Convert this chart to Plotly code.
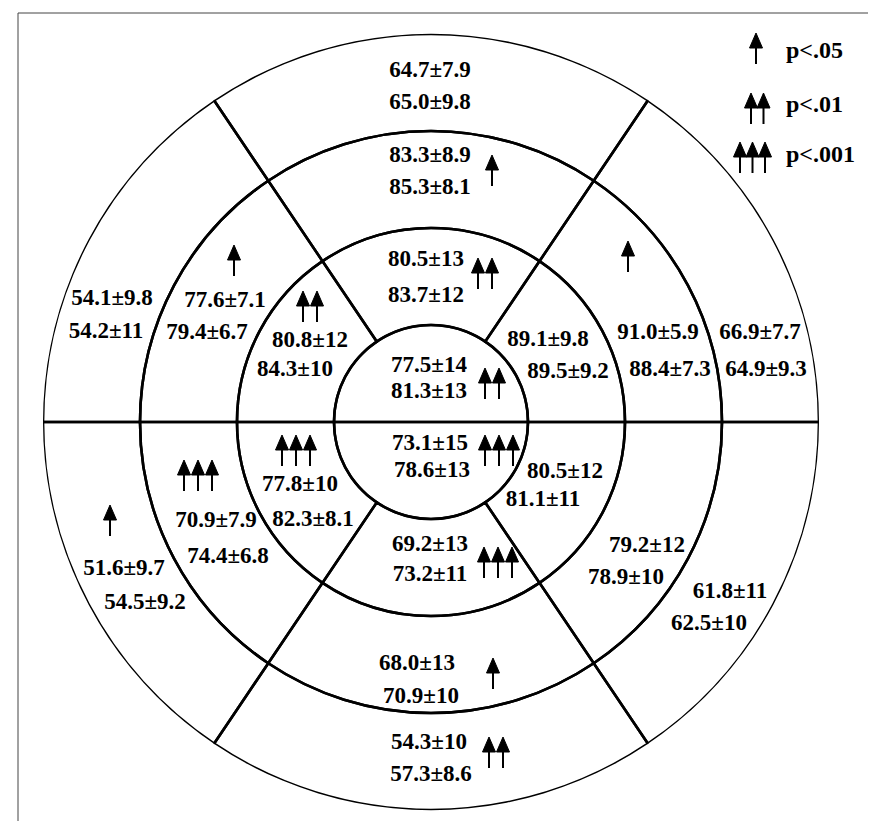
import numpy as np
import plotly.graph_objects as go

# ---- values read off the bullseye -------------------------------------
# segment order in every ring: top, upper-left, lower-left, bottom, lower-right, upper-right
# "a" = upper number of a segment, "b" = lower number, sig = number of arrows
center_mean_a = [77.5, 73.1]          # centre disc: top half, bottom half
center_sd_a = [14, 15]
center_mean_b = [81.3, 78.6]
center_sd_b = [13, 13]
center_sig = [2, 3]

inner_mean_a = [80.5, 80.8, 77.8, 69.2, 80.5, 89.1]
inner_sd_a = [13, 12, 10, 13, 12, 9.8]
inner_mean_b = [83.7, 84.3, 82.3, 73.2, 81.1, 89.5]
inner_sd_b = [12, 10, 8.1, 11, 11, 9.2]
inner_sig = [2, 2, 3, 3, 0, 0]

middle_mean_a = [83.3, 77.6, 70.9, 68.0, 79.2, 91.0]
middle_sd_a = [8.9, 7.1, 7.9, 13, 12, 5.9]
middle_mean_b = [85.3, 79.4, 74.4, 70.9, 78.9, 88.4]
middle_sd_b = [8.1, 6.7, 6.8, 10, 10, 7.3]
middle_sig = [1, 1, 3, 1, 0, 1]

outer_mean_a = [64.7, 54.1, 51.6, 54.3, 61.8, 66.9]
outer_sd_a = [7.9, 9.8, 9.7, 10, 11, 7.7]
outer_mean_b = [65.0, 54.2, 54.5, 57.3, 62.5, 64.9]
outer_sd_b = [9.8, 11, 9.2, 8.6, 10, 9.3]
outer_sig = [0, 0, 1, 2, 0, 0]

sig_labels = ["p<.05", "p<.01", "p<.001"]

# ---- layout (pixels of the 876x821 page) -------------------------------
W, H = 876, 821
CX, CY, R = 423, 414, 388          # centre and outer radius of the bullseye
U = R / 4.0                         # one ring = one radial unit
EDGES = [56, 124, 180, 236, 304, 360, 416]   # divider angles (deg, ccw from east)
FONT = "Liberation Serif"
FS = 23

# label centres (line a, line b) and first arrow tip, in page pixels
pos_center = [((421, 358), (421, 384), (477, 360)),
              ((422, 436), (424, 463), (477, 427))]
pos_inner = [((418, 252), (418, 288), (470, 250)),
             ((302, 333), (287, 362), (295, 283)),
             ((292, 477), (305, 512), (274, 427)),
             ((422, 537), (422, 567), (476, 539)),
             ((557, 464), (535, 492), None),
             ((540, 332), (560, 364), None)]
pos_middle = [((422, 148), (422, 180), (484, 147)),
              ((217, 293), (199, 325), (226, 237)),
              ((208, 513), (220, 549), (176, 452)),
              ((409, 656), (413, 689), (485, 650)),
              ((639, 538), (618, 570), None),
              ((650, 325), (662, 362), (620, 233))]
pos_outer = [((422, 63), (422, 95), None),
             ((104, 291), (98, 324), None),
             ((116, 561), (137, 595), (102, 497)),
             ((421, 735), (423, 767), (481, 729)),
             ((722, 584), (701, 616), None),
             ((752, 325), (758, 362), None)]
legend_arrow_x = [748, 743, 732]     # first tip x of each legend row
legend_arrow_y = [25, 85, 134]
legend_text_xy = [(778, 44), (778, 98), (778, 148)]


def ux(px):
    return (px - CX) / U


def uy(py):
    return (CY - py) / U


def fmt(m, s):
    return f"{m:.1f}±{s:g}"


fig = go.Figure()

# ---- segment grid as polar bars -----------------------------------------
centers = [(EDGES[i] + EDGES[i + 1]) / 2 for i in range(6)]
widths = [EDGES[i + 1] - EDGES[i] for i in range(6)]
seg_line = dict(color="black", width=2.6)
fig.add_trace(go.Barpolar(r=[1, 1], base=[0, 0], theta=[90, 270], width=[180, 180],
                          marker=dict(color="rgba(0,0,0,0)", line=seg_line),
                          hoverinfo="skip", showlegend=False))
for ring in (1, 2, 3):
    fig.add_trace(go.Barpolar(r=[1] * 6, base=[ring] * 6, theta=centers, width=widths,
                              marker=dict(color="rgba(0,0,0,0)", line=seg_line),
                              hoverinfo="skip", showlegend=False))

# ---- numbers and arrows ---------------------------------------------------
tx, ty, tt = [], [], []
tips = []
rings = [
    (center_mean_a, center_sd_a, center_mean_b, center_sd_b, center_sig, pos_center),
    (inner_mean_a, inner_sd_a, inner_mean_b, inner_sd_b, inner_sig, pos_inner),
    (middle_mean_a, middle_sd_a, middle_mean_b, middle_sd_b, middle_sig, pos_middle),
    (outer_mean_a, outer_sd_a, outer_mean_b, outer_sd_b, outer_sig, pos_outer),
]
for ma, sa, mb, sb, sig, pos in rings:
    for i in range(len(ma)):
        (ax_, ay_), (bx_, by_), arr = pos[i]
        tx += [ux(ax_), ux(bx_)]
        ty += [uy(ay_), uy(by_)]
        tt += [fmt(ma[i], sa[i]), fmt(mb[i], sb[i])]
        if sig[i] and arr:
            for k in range(sig[i]):
                tips.append((arr[0] + 14 * k, arr[1]))

fig.add_trace(go.Scatter(x=tx, y=ty, text=tt, mode="text",
                         textfont=dict(family=FONT, size=FS, color="black", weight="bold"),
                         hoverinfo="skip", showlegend=False))

# legend: 1, 2, 3 arrows and the p-value texts
for n in range(3):
    for k in range(n + 1):
        tips.append((legend_arrow_x[n] + 12.5 * k, legend_arrow_y[n]))
fig.add_trace(go.Scatter(x=[ux(p[0]) for p in legend_text_xy], y=[uy(p[1]) for p in legend_text_xy],
                         text=sig_labels, mode="text", textposition="middle right",
                         textfont=dict(family=FONT, size=FS + 1, color="black", weight="bold"),
                         hoverinfo="skip", showlegend=False))

hx, hy, sx, sy = [], [], [], []
for (px, py) in tips:
    hx += [ux(px), ux(px - 6.5), ux(px + 6.5), ux(px), None]
    hy += [uy(py), uy(py + 15), uy(py + 15), uy(py), None]
    sx += [ux(px), ux(px), None]
    sy += [uy(py + 12), uy(py + 31), None]
fig.add_trace(go.Scatter(x=sx, y=sy, mode="lines", line=dict(color="black", width=2),
                         hoverinfo="skip", showlegend=False))
fig.add_trace(go.Scatter(x=hx, y=hy, mode="lines", fill="toself", fillcolor="black",
                         line=dict(color="black", width=1), hoverinfo="skip", showlegend=False))

fig.update_layout(
    width=W, height=H,
    margin=dict(l=0, r=0, t=0, b=0),
    paper_bgcolor="white", plot_bgcolor="rgba(0,0,0,0)",
    polar=dict(
        domain=dict(x=[(CX - R) / W, (CX + R) / W], y=[1 - (CY + R) / H, 1 - (CY - R) / H]),
        bgcolor="rgba(0,0,0,0)",
        radialaxis=dict(visible=False, range=[0, 4]),
        angularaxis=dict(visible=False, rotation=0, direction="counterclockwise"),
    ),
    xaxis=dict(domain=[0, 1], range=[ux(0), ux(W)], visible=False, fixedrange=True),
    yaxis=dict(domain=[0, 1], range=[uy(H), uy(0)], visible=False, fixedrange=True),
    shapes=[dict(type="rect", xref="paper", yref="paper",
                 x0=10 / W, x1=873 / W, y0=1 - 816 / H, y1=1 - 5 / H,
                 line=dict(color="#444", width=1))],
)

fig.write_html("out.html")
